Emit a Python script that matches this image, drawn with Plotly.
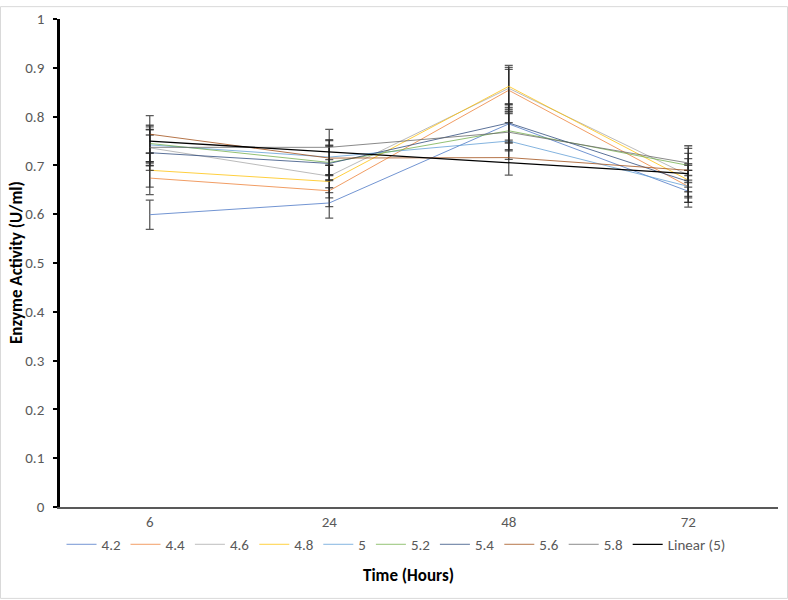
import numpy as np
import plotly.graph_objects as go

categories = ["6", "24", "48", "72"]
series_names = ["4.2", "4.4", "4.6", "4.8", "5", "5.2", "5.4", "5.6", "5.8"]
s42 = [0.599, 0.623, 0.785, 0.647]
s44 = [0.674, 0.648, 0.854, 0.657]
s46 = [0.736, 0.678, 0.858, 0.680]
s48 = [0.690, 0.667, 0.862, 0.670]
s50 = [0.742, 0.717, 0.750, 0.657]
s52 = [0.745, 0.706, 0.771, 0.700]
s54 = [0.726, 0.704, 0.787, 0.667]
s56 = [0.764, 0.715, 0.716, 0.690]
s58 = [0.737, 0.737, 0.768, 0.705]
series_values = [s42, s44, s46, s48, s50, s52, s54, s56, s58]
error_percent = 5
y_ticks = [round(0.1 * i, 1) for i in range(11)]

colors = ["#4472C4", "#ED7D31", "#A5A5A5", "#FFC000", "#5B9BD5",
          "#70AD47", "#264478", "#9E480E", "#636363"]

FONT = "Carlito, Lato, 'Liberation Sans', sans-serif"

fig = go.Figure()
for name, vals, col in zip(series_names, series_values, colors):
    fig.add_trace(go.Scatter(
        x=categories, y=vals, name=name, mode="lines",
        line=dict(color=col, width=1), opacity=0.75,
        error_y=dict(type="percent", value=error_percent, symmetric=True,
                     color="#262626", thickness=1.3, width=4),
    ))

# Linear trendline of series "5" over category index
idx = np.arange(1, len(categories) + 1)
coef = np.polyfit(idx, np.array(s50), 1)
trend = np.polyval(coef, idx)
fig.add_trace(go.Scatter(
    x=categories, y=trend, name="Linear (5)", mode="lines",
    line=dict(color="#000000", width=1.3),
))

L, R, T, B = 60, 10, 13, 93
W, H = 788, 600
pw, ph = W - L - R, H - T - B

fig.update_layout(
    width=W, height=H,
    margin=dict(l=L, r=R, t=T, b=B, pad=0),
    paper_bgcolor="white", plot_bgcolor="white",
    font=dict(family=FONT, size=15, color="#595959"),
    showlegend=True,
    legend=dict(orientation="h", x=0.468, xanchor="center",
                y=-(545 - 507) / ph, yanchor="middle",
                font=dict(size=15, color="#595959"),
                bgcolor="rgba(0,0,0,0)", itemwidth=30, tracegroupgap=0),
    xaxis=dict(type="category", categoryorder="array", categoryarray=categories,
               showgrid=False, zeroline=False, showline=True,
               linecolor="#595959", linewidth=1.5, ticks="",
               tickfont=dict(size=15, color="#595959"),
               range=[-0.5, len(categories) - 0.5]),
    yaxis=dict(range=[0, 1], tickvals=y_ticks,
               ticktext=[("%g" % v) for v in y_ticks],
               showgrid=False, zeroline=False, showline=True,
               linecolor="#000000", linewidth=2.5,
               ticks="outside", ticklen=4, tickwidth=2, tickcolor="#000000",
               ticklabelstandoff=6,
               tickfont=dict(size=15, color="#595959")),
    annotations=[
        dict(text="<b>Time (Hours)</b>", xref="paper", yref="paper",
             x=(408 - L) / pw, y=-(576 - 507) / ph, xanchor="center", yanchor="middle",
             showarrow=False, font=dict(size=17, color="#000000", family=FONT)),
        dict(text="<b>Enzyme Activity (U/ml)</b>", xref="paper", yref="paper",
             x=-(L - 16) / pw, y=(507 - 260) / ph, xanchor="center", yanchor="middle",
             textangle=-90, showarrow=False,
             font=dict(size=17, color="#000000", family=FONT)),
    ],
    shapes=[dict(type="rect", xref="paper", yref="paper",
                 x0=(0.5 - L) / pw, x1=(W - 0.5 - L) / pw,
                 y0=-(H - 0.5 - (T + ph)) / ph, y1=(T + ph - 0.5) / ph,
                 line=dict(color="#D9D9D9", width=1), layer="below")],
)

fig.write_html("out.html")
